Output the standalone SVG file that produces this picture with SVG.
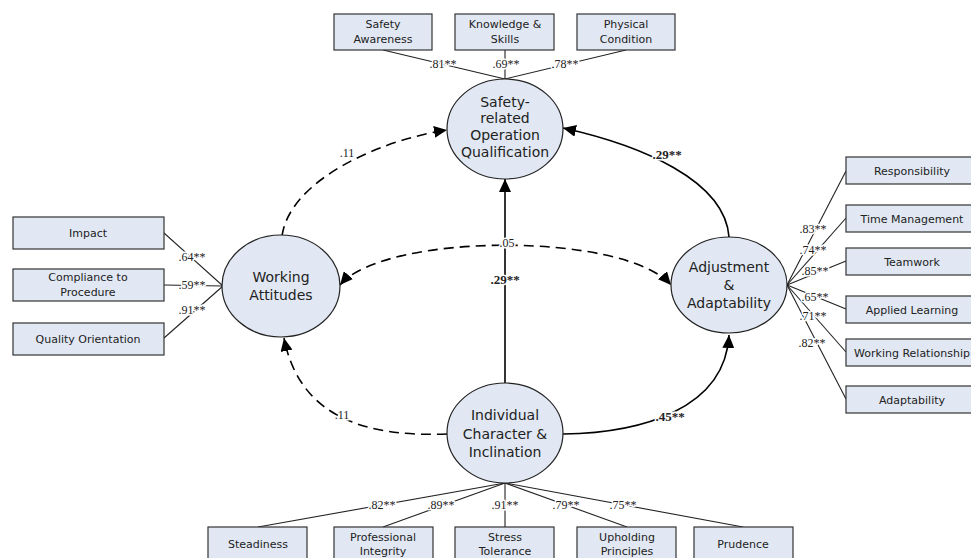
<svg xmlns="http://www.w3.org/2000/svg" width="971" height="558" viewBox="0 0 971 558">
<style>
.box{fill:#e1e8f3;stroke:#333;stroke-width:1.2}
.ell{fill:#e1e8f3;stroke:#222;stroke-width:1.2}
.bt{font-family:"DejaVu Sans",Verdana,sans-serif;font-size:11px;fill:#222;text-anchor:middle}
.et{font-family:"DejaVu Sans",Verdana,sans-serif;font-size:14px;fill:#222;text-anchor:middle}
.ld{stroke:#222;stroke-width:1.1;fill:none}
.lbl{font-family:"Liberation Serif","Times New Roman",serif;font-size:12px;fill:#222;text-anchor:middle;stroke:#fff;stroke-width:3;paint-order:stroke;stroke-linejoin:round}
.bl{font-weight:bold;font-size:13px}
.cs{stroke:#000;stroke-width:1.6;fill:none}
.cd{stroke:#000;stroke-width:1.6;fill:none;stroke-dasharray:10 6}
</style>
<defs>
<marker id="ah" markerUnits="userSpaceOnUse" markerWidth="14" markerHeight="12" viewBox="0 0 14 12" refX="13" refY="6" orient="auto-start-reverse">
<path d="M0,0 L13,6 L0,12 z" fill="#000"/>
</marker>
</defs>

<g id="loadings">
<line class="ld" x1="383" y1="50" x2="505" y2="79"/>
<line class="ld" x1="505" y1="50" x2="505" y2="79"/>
<line class="ld" x1="626" y1="50" x2="505" y2="79"/>
<line class="ld" x1="164" y1="233" x2="223" y2="286"/>
<line class="ld" x1="164" y1="285" x2="223" y2="286"/>
<line class="ld" x1="164" y1="338" x2="223" y2="286"/>
<line class="ld" x1="787" y1="285" x2="846" y2="171"/>
<line class="ld" x1="787" y1="285" x2="846" y2="218"/>
<line class="ld" x1="787" y1="285" x2="846" y2="261"/>
<line class="ld" x1="787" y1="285" x2="846" y2="309"/>
<line class="ld" x1="787" y1="285" x2="846" y2="352"/>
<line class="ld" x1="787" y1="285" x2="846" y2="399"/>
<line class="ld" x1="505" y1="483" x2="258" y2="527"/>
<line class="ld" x1="505" y1="483" x2="383" y2="527"/>
<line class="ld" x1="505" y1="483" x2="505" y2="527"/>
<line class="ld" x1="505" y1="483" x2="627" y2="527"/>
<line class="ld" x1="505" y1="483" x2="743" y2="527"/>
</g>

<g id="connectors">
<path class="cd" d="M282,236 C290,180 380,140 447,130" marker-end="url(#ah)"/>
<path class="cs" d="M729,237 C725,180 640,145 563,128" marker-end="url(#ah)"/>
<path class="cs" d="M505,383 L505,179" marker-end="url(#ah)"/>
<path class="cd" d="M340,285 C385,232 625,232 671,285" marker-start="url(#ah)" marker-end="url(#ah)"/>
<path class="cd" d="M447,434 C370,437 300,420 284,338" marker-end="url(#ah)"/>
<path class="cs" d="M563,434 C640,433 725,410 729,335" marker-end="url(#ah)"/>
</g>

<g id="labels">
<text class="lbl" x="443" y="68">.81**</text>
<text class="lbl" x="506" y="68">.69**</text>
<text class="lbl" x="565" y="68">.78**</text>
<text class="lbl" x="192" y="261">.64**</text>
<text class="lbl" x="192" y="289">.59**</text>
<text class="lbl" x="192" y="314">.91**</text>
<text class="lbl" x="813" y="233">.83**</text>
<text class="lbl" x="813" y="254">.74**</text>
<text class="lbl" x="815" y="275">.85**</text>
<text class="lbl" x="815" y="301">.65**</text>
<text class="lbl" x="813" y="320">.71**</text>
<text class="lbl" x="812" y="347">.82**</text>
<text class="lbl" x="382" y="509">.82**</text>
<text class="lbl" x="441" y="509">.89**</text>
<text class="lbl" x="505" y="509">.91**</text>
<text class="lbl" x="566" y="509">.79**</text>
<text class="lbl" x="623" y="509">.75**</text>
<text class="lbl" x="347" y="157">.11</text>
<text class="lbl bl" x="667" y="159">.29**</text>
<text class="lbl bl" x="505" y="284">.29**</text>
<text class="lbl" x="507" y="247">.05</text>
<text class="lbl" x="342" y="419">.11</text>
<text class="lbl bl" x="670" y="421">.45**</text>
</g>

<g id="n-safety-awareness"><rect class="box" x="334" y="14" width="98" height="36"/><text class="bt" x="383" y="28">Safety</text><text class="bt" x="383" y="43">Awareness</text></g>
<g id="n-knowledge"><rect class="box" x="455" y="14" width="99" height="36"/><text class="bt" x="505" y="28">Knowledge &amp;</text><text class="bt" x="505" y="43">Skills</text></g>
<g id="n-physical"><rect class="box" x="577" y="14" width="98" height="36"/><text class="bt" x="626" y="28">Physical</text><text class="bt" x="626" y="43">Condition</text></g>

<g id="n-impact"><rect class="box" x="13" y="217" width="151" height="32"/><text class="bt" x="88" y="237">Impact</text></g>
<g id="n-compliance"><rect class="box" x="13" y="269" width="151" height="32"/><text class="bt" x="88" y="281">Compliance to</text><text class="bt" x="88" y="296">Procedure</text></g>
<g id="n-quality"><rect class="box" x="13" y="323" width="151" height="32"/><text class="bt" x="88" y="343">Quality Orientation</text></g>

<g id="n-responsibility"><rect class="box" x="846" y="157" width="132" height="27"/><text class="bt" x="912" y="175">Responsibility</text></g>
<g id="n-time"><rect class="box" x="846" y="205" width="132" height="27"/><text class="bt" x="912" y="223">Time Management</text></g>
<g id="n-teamwork"><rect class="box" x="846" y="248" width="132" height="27"/><text class="bt" x="912" y="266">Teamwork</text></g>
<g id="n-applied"><rect class="box" x="846" y="296" width="132" height="27"/><text class="bt" x="912" y="314">Applied Learning</text></g>
<g id="n-workrel"><rect class="box" x="846" y="339" width="132" height="27"/><text class="bt" x="912" y="357">Working Relationship</text></g>
<g id="n-adaptability"><rect class="box" x="846" y="386" width="132" height="27"/><text class="bt" x="912" y="404">Adaptability</text></g>

<g id="n-steadiness"><rect class="box" x="208" y="527" width="99" height="36"/><text class="bt" x="258" y="548">Steadiness</text></g>
<g id="n-integrity"><rect class="box" x="334" y="527" width="99" height="36"/><text class="bt" x="383" y="541">Professional</text><text class="bt" x="383" y="555">Integrity</text></g>
<g id="n-stress"><rect class="box" x="455" y="527" width="99" height="36"/><text class="bt" x="505" y="541">Stress</text><text class="bt" x="505" y="555">Tolerance</text></g>
<g id="n-upholding"><rect class="box" x="577" y="527" width="99" height="36"/><text class="bt" x="627" y="541">Upholding</text><text class="bt" x="627" y="555">Principles</text></g>
<g id="n-prudence"><rect class="box" x="694" y="527" width="99" height="36"/><text class="bt" x="743" y="548">Prudence</text></g>

<g id="n-safety-qual"><ellipse class="ell" cx="505" cy="129" rx="58" ry="50"/><text class="et" x="505" y="107">Safety-</text><text class="et" x="505" y="123">related</text><text class="et" x="505" y="140">Operation</text><text class="et" x="505" y="157">Qualification</text></g>
<g id="n-working-attitudes"><ellipse class="ell" cx="281" cy="286" rx="59" ry="51"/><text class="et" x="281" y="282">Working</text><text class="et" x="281" y="300">Attitudes</text></g>
<g id="n-adjustment"><ellipse class="ell" cx="729" cy="285" rx="58" ry="48"/><text class="et" x="729" y="272">Adjustment</text><text class="et" x="729" y="290">&amp;</text><text class="et" x="729" y="308">Adaptability</text></g>
<g id="n-individual"><ellipse class="ell" cx="505" cy="433" rx="58" ry="50"/><text class="et" x="505" y="420">Individual</text><text class="et" x="505" y="439">Character &amp;</text><text class="et" x="505" y="457">Inclination</text></g>
</svg>
